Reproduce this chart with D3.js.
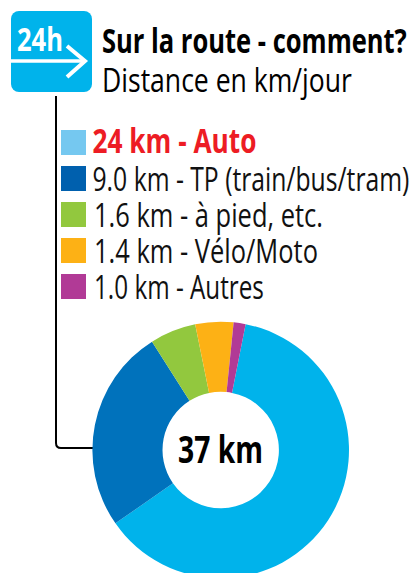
<!DOCTYPE html>
<html><head><meta charset="utf-8">
<script src="https://cdn.jsdelivr.net/npm/d3@7"></script>
<style>html,body{margin:0;padding:0;background:#fff}svg{display:block}text{font-family:"Open Sans",sans-serif}</style>
</head><body><svg id="c" width="413" height="573"></svg>
<script>
const categories = ["Auto","TP","Pied","Velo","Autres"];
const legendLabels = ["24 km - Auto","9.0 km - TP (train/bus/tram)","1.6 km - à pied, etc.","1.4 km - Vélo/Moto","1.0 km - Autres"];
const slicePercent = [62.2,25.7,5.8,4.8,1.5];
const sliceColors = ["#00b3eb","#0072bc","#92c83e","#fdb115","#b13a96"];
const legendColors = ["#75c8f0","#0060ae","#92c83e","#fdb115","#b13a96"];
const legendWidths = [164,317,229,224,170];
const legendX = [92.5,92.5,94,94,94];
const legendBaselines = [152.5,190.5,226.5,262.5,298.5];
const legendBoxes = [130,166,202,238,274];

const svg = d3.select("#c");
// draws a text, condensed horizontally to the width it has in the reference
function label(x,y,size,weight,fill,str,w,parent){
  const t=(parent||svg).append("text").attr("font-size",size).attr("font-weight",weight).attr("fill",fill).text(str);
  const natural=t.node().getComputedTextLength();
  t.attr("transform",`translate(${x},${y}) scale(${w/natural},1)`);
  return t;
}

// icon
svg.append("rect").attr("x",11).attr("y",11).attr("width",81).attr("height",81).attr("rx",8).attr("fill","#00b3eb");
label(17,51,33,700,"#fff","24h",46);
svg.append("path").attr("d",d3.line()([[11,61],[85,61]])).attr("stroke","#fff").attr("stroke-width",3.5).attr("fill","none");
svg.append("path").attr("d",d3.line()([[67,46],[85,61],[67,77]])).attr("stroke","#fff").attr("stroke-width",4).attr("fill","none");

// title
label(102,53,33.5,700,"#000","Sur la route - comment?",305);
label(102,92,33.5,400,"#000","Distance en km/jour",250);

// connector
svg.append("path").attr("d","M56,96V443Q56,448 61,448H93").attr("stroke","#000").attr("stroke-width",2).attr("fill","none");

// legend
categories.forEach((c,i)=>{
  svg.append("rect").attr("x",61).attr("y",legendBoxes[i]).attr("width",25).attr("height",25).attr("fill",legendColors[i]);
  label(legendX[i],legendBaselines[i],33.5,i===0?700:400,i===0?"#ed1c24":"#111",legendLabels[i],legendWidths[i]);
});

// donut
const start = 11.2*Math.PI/180;
const pie = d3.pie().sort(null).startAngle(start).endAngle(start+2*Math.PI);
const arc = d3.arc().innerRadius(58.2).outerRadius(128.3);
const g = svg.append("g").attr("transform","translate(220.7,450)");
g.selectAll("path").data(pie(slicePercent)).join("path").attr("d",arc).attr("fill",(d,i)=>sliceColors[i]);
label(-42.7,12.7,38,700,"#000","37 km",85,g);
</script></body></html>
